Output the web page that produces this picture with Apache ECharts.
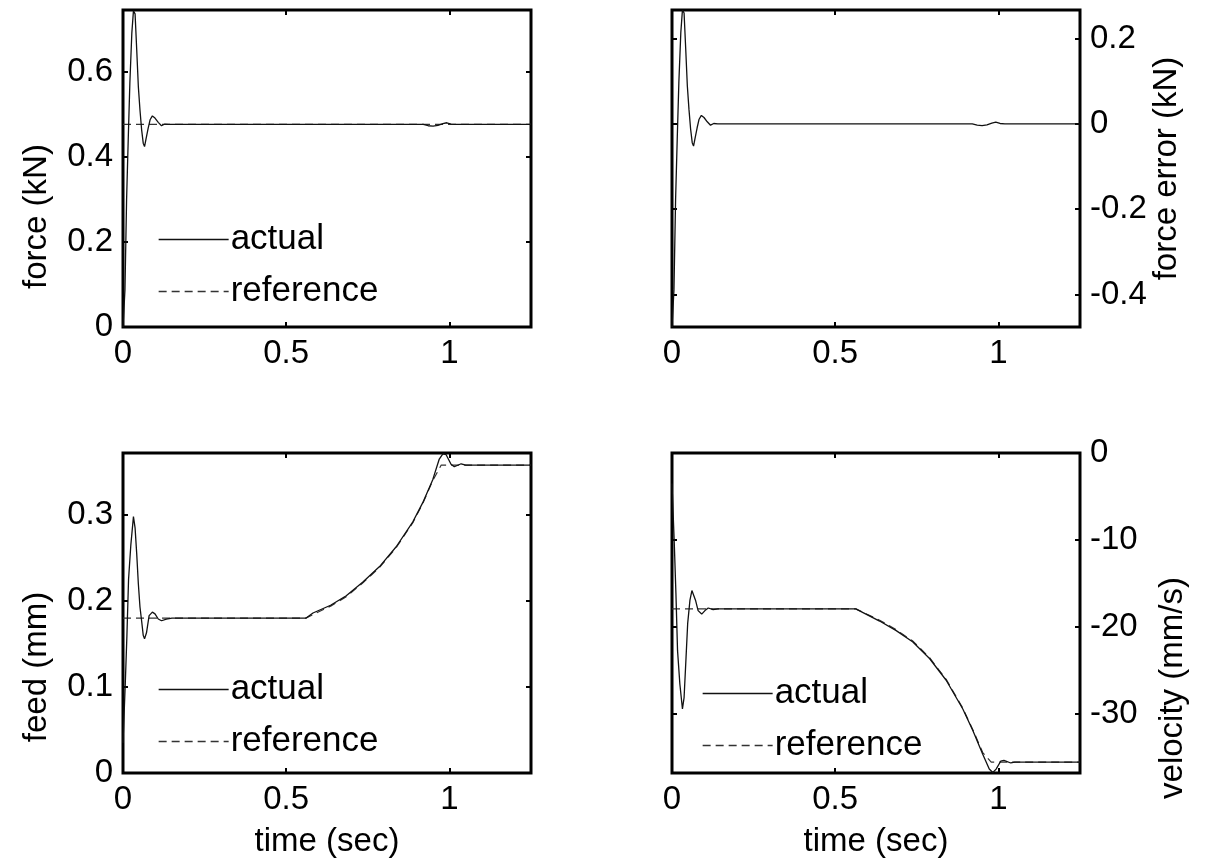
<!DOCTYPE html>
<html>
<head>
<meta charset="utf-8">
<script src="https://cdn.jsdelivr.net/npm/echarts@6/dist/echarts.min.js"></script>
<style>
html,body{margin:0;padding:0;background:#fff;}
#chart{width:1207px;height:867px;}
</style>
</head>
<body>
<div id="chart"></div>
<script>
// ---------- data ----------
const timeTicks = [0, 0.5, 1];
const forceTicks = [0, 0.2, 0.4, 0.6];
const errorTicks = [-0.4, -0.2, 0, 0.2];
const feedTicks = [0, 0.1, 0.2, 0.3];
const velTicks = [-30, -20, -10, 0];

const forceTime   = [0, 0.006, 0.011, 0.016, 0.021, 0.027, 0.032, 0.037, 0.042, 0.047, 0.052, 0.057, 0.062, 0.066, 0.070, 0.077, 0.083, 0.090, 0.098, 0.108, 0.118, 0.128, 0.140, 0.920, 0.935, 0.950, 0.965, 0.980, 0.992, 1.005, 1.020, 1.250];
const forceActual = [0.000, 0.087, 0.299, 0.440, 0.573, 0.690, 0.743, 0.736, 0.652, 0.565, 0.510, 0.464, 0.432, 0.424, 0.440, 0.467, 0.487, 0.496, 0.491, 0.481, 0.473, 0.477, 0.476, 0.476, 0.473, 0.472, 0.474, 0.478, 0.480, 0.477, 0.476, 0.476];
const forceRefTime = [0, 1.25];
const forceRef     = [0.476, 0.476];
const forceError  = [-0.476, -0.389, -0.177, -0.036, 0.097, 0.214, 0.267, 0.260, 0.176, 0.089, 0.034, -0.012, -0.044, -0.052, -0.036, -0.009, 0.011, 0.020, 0.015, 0.005, -0.003, 0.001, 0, 0, -0.003, -0.004, -0.002, 0.002, 0.004, 0.001, 0, 0];

const feedTime   = [0, 0.007, 0.012, 0.017, 0.024, 0.032, 0.037, 0.042, 0.047, 0.052, 0.057, 0.062, 0.066, 0.072, 0.080, 0.090, 0.098, 0.108, 0.118, 0.133, 0.150, 0.560, 0.582, 0.636, 0.684, 0.735, 0.786, 0.837, 0.888, 0.918, 0.949, 0.969, 0.980, 0.990, 1.005, 1.015, 1.036, 1.050, 1.250];
const feedActual = [0.035, 0.104, 0.160, 0.225, 0.265, 0.298, 0.285, 0.255, 0.220, 0.193, 0.177, 0.160, 0.156, 0.163, 0.183, 0.187, 0.185, 0.179, 0.177, 0.179, 0.180, 0.180, 0.186, 0.195, 0.206, 0.222, 0.240, 0.263, 0.292, 0.314, 0.341, 0.365, 0.371, 0.370, 0.359, 0.356, 0.3595, 0.358, 0.358];
const feedRefTime = [0, 0.560, 0.636, 0.684, 0.735, 0.786, 0.837, 0.888, 0.918, 0.949, 0.975, 1.250];
const feedRef     = [0.180, 0.180, 0.194, 0.205, 0.221, 0.239, 0.262, 0.291, 0.313, 0.340, 0.358, 0.358];

const velTime   = [0, 0.007, 0.012, 0.017, 0.024, 0.032, 0.037, 0.043, 0.048, 0.055, 0.061, 0.067, 0.072, 0.080, 0.091, 0.101, 0.111, 0.126, 0.141, 0.563, 0.636, 0.687, 0.738, 0.789, 0.840, 0.891, 0.922, 0.952, 0.972, 0.983, 0.993, 1.007, 1.017, 1.038, 1.050, 1.250];
const velActual = [-3.5, -10.4, -16.1, -22.7, -26.5, -29.4, -28.1, -23.5, -19.6, -16.9, -15.8, -15.6, -16.9, -18.1, -18.5, -18.1, -17.8, -18.0, -17.9, -17.9, -19.3, -20.4, -21.7, -23.6, -26.1, -29.4, -31.9, -34.6, -36.3, -36.7, -36.3, -35.4, -35.3, -35.6, -35.5, -35.5];
const velRefTime = [0, 0.563, 0.636, 0.687, 0.738, 0.789, 0.840, 0.891, 0.922, 0.952, 0.978, 1.250];
const velRef     = [-17.9, -17.9, -19.2, -20.3, -21.6, -23.5, -26.0, -29.3, -31.8, -34.4, -35.5, -35.5];

// ---------- build ----------
const FONT = 'Liberation Sans, Arial, sans-serif';
const FS = 33;     // tick labels and axis titles
const LFS = 35;    // legend text
const zip = (a, b) => a.map((v, i) => [v, b[i]]);

const grids = [
  {left: 123, top: 10, width: 408, height: 317},
  {left: 672, top: 10, width: 408, height: 317},
  {left: 123, top: 453, width: 408, height: 320},
  {left: 672, top: 453, width: 408, height: 320}
].map(g => Object.assign({show: true, borderColor: '#000', borderWidth: 3, backgroundColor: 'transparent', containLabel: false}, g));

const tickStyle = {show: true, inside: true, length: 5, lineStyle: {color: '#000', width: 2}};

function xAx(gi, showName) {
  return [{
    type: 'value', gridIndex: gi, min: 0, max: 1.25, position: 'bottom',
    axisLine: {show: false, onZero: false},
    axisTick: Object.assign({customValues: timeTicks}, tickStyle),
    axisLabel: {customValues: timeTicks, fontSize: FS, fontFamily: FONT, color: '#000', margin: 10},
    splitLine: {show: false},
    name: showName ? 'time (sec)' : '', nameLocation: 'middle', nameGap: 52,
    nameTextStyle: {fontSize: FS, fontFamily: FONT, color: '#000'}
  }, {
    type: 'value', gridIndex: gi, min: 0, max: 1.25, position: 'top',
    axisLine: {show: false, onZero: false},
    axisTick: Object.assign({customValues: timeTicks}, tickStyle),
    axisLabel: {show: false}, splitLine: {show: false}
  }];
}
function yAx(gi, min, max, ticks, pos, name, gap, pad) {
  return [{
    type: 'value', gridIndex: gi, min: min, max: max, position: pos,
    axisLine: {show: false, onZero: false},
    axisTick: Object.assign({customValues: ticks}, tickStyle),
    axisLabel: {customValues: ticks, fontSize: FS, fontFamily: FONT, color: '#000', margin: 10},
    splitLine: {show: false},
    name: name, nameLocation: 'middle', nameGap: gap, nameRotate: 90,
    nameTextStyle: {fontSize: FS, fontFamily: FONT, color: '#000', padding: pad}
  }, {
    type: 'value', gridIndex: gi, min: min, max: max, position: pos === 'left' ? 'right' : 'left',
    axisLine: {show: false, onZero: false},
    axisTick: Object.assign({customValues: ticks}, tickStyle),
    axisLabel: {show: false}, splitLine: {show: false}
  }];
}

const xAxes = [].concat(xAx(0, false), xAx(1, false), xAx(2, true), xAx(3, true));
const yAxes = [].concat(
  yAx(0, 0, 0.745, forceTicks, 'left', 'force (kN)', 70, [0, 96, 0, 0]),
  yAx(1, -0.476, 0.267, errorTicks, 'right', 'force error (kN)', 56, [0, 0, 0, 0]),
  yAx(2, 0, 0.372, feedTicks, 'left', 'feed (mm)', 70, [0, 108, 0, 0]),
  yAx(3, -36.75, 0, velTicks, 'right', 'velocity (mm/s)', 76, [0, 150, 0, 0])
);

const actualStyle = {color: '#111', width: 1.3, type: 'solid'};
const refStyle = {color: '#333', width: 1.2, type: [8, 5]};
function line(name, xi, yi, data, style, z) {
  return {
    type: 'line', name: name, xAxisIndex: xi, yAxisIndex: yi, data: data,
    symbol: 'none', showSymbol: false, smooth: false, lineStyle: style,
    itemStyle: {color: style.color}, z: z, animation: false, silent: true
  };
}
const series = [
  line('reference', 0, 0, zip(forceRefTime, forceRef), refStyle, 2),
  line('actual', 0, 0, zip(forceTime, forceActual), actualStyle, 3),
  line('error', 2, 2, zip(forceTime, forceError), actualStyle, 3),
  line('reference', 4, 4, zip(feedRefTime, feedRef), refStyle, 2),
  line('actual', 4, 4, zip(feedTime, feedActual), actualStyle, 3),
  line('reference', 6, 6, zip(velRefTime, velRef), refStyle, 2),
  line('actual', 6, 6, zip(velTime, velActual), actualStyle, 3)
];

function legend(left, top) {
  return {
    data: ['actual', 'reference'], orient: 'vertical', left: left, top: top,
    padding: 0, itemWidth: 70, itemHeight: 2, itemGap: 17,
    itemStyle: {opacity: 0},
    lineStyle: {width: 1.3},
    textStyle: {fontSize: LFS, fontFamily: FONT, color: '#000', lineHeight: 35, padding: [0, 0, 0, -3]},
    selectedMode: false
  };
}

const chart = echarts.init(document.getElementById('chart'), null, {renderer: 'canvas'});
chart.setOption({
  animation: false,
  backgroundColor: '#fff',
  grid: grids,
  xAxis: xAxes,
  yAxis: yAxes,
  legend: [legend(158, 222), legend(158, 672), legend(702, 676)],
  series: series
});
</script>
</body>
</html>
